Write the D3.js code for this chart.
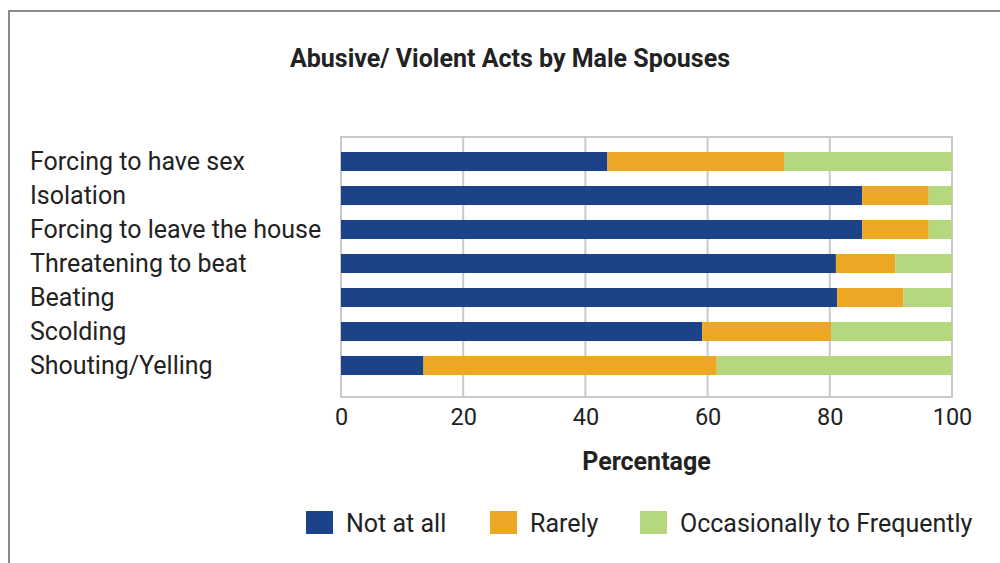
<!DOCTYPE html>
<html>
<head>
<meta charset="utf-8">
<script src="https://cdn.jsdelivr.net/npm/d3@7"></script>
<style>
  html, body { margin: 0; padding: 0; background: #fff; }
  svg { display: block; font-family: Roboto, "Noto Sans", sans-serif; }
</style>
</head>
<body>
<svg id="chart" width="1000" height="563"></svg>
<script>
// Survey responses (percent of respondents) per type of act
const categories = [
  "Forcing to have sex",
  "Isolation",
  "Forcing to leave the house",
  "Threatening to beat",
  "Beating",
  "Scolding",
  "Shouting/Yelling"
];
const seriesNames = ["Not at all", "Rarely", "Occasionally to Frequently"];
const notAtAll   = [43.6, 85.3, 85.3, 81.0, 81.2, 59.1, 13.5];
const rarely     = [28.9, 10.9, 10.9,  9.7, 10.8, 21.1, 48.0];
const occasional = [27.5,  3.8,  3.8,  9.3,  8.0, 19.8, 38.5];
const xTicks = [0, 20, 40, 60, 80, 100];
const colors = ["#1c4387", "#eca725", "#b5d87f"];

const rows = categories.map((c, i) => ({
  category: c,
  "Not at all": notAtAll[i],
  "Rarely": rarely[i],
  "Occasionally to Frequently": occasional[i]
}));

const svg = d3.select("#chart");

// outer frame
svg.append("rect")
  .attr("x", 9).attr("y", 11)
  .attr("width", 1000).attr("height", 600)
  .attr("fill", "none")
  .attr("stroke", "#8a8a8a")
  .attr("stroke-width", 2);

// title
svg.append("text")
  .attr("x", 510).attr("y", 67)
  .attr("text-anchor", "middle")
  .attr("font-size", 25)
  .attr("font-weight", "bold")
  .attr("fill", "#222")
  .text("Abusive/ Violent Acts by Male Spouses");

const plot = { left: 341, right: 952, top: 137, bottom: 397 };

const x = d3.scaleLinear().domain([0, 100]).range([plot.left, plot.right]);
const y = d3.scaleBand().domain(categories).range([144.5, 382.5]).paddingInner(0.44).paddingOuter(0.22);

// vertical gridlines
svg.append("g")
  .selectAll("line")
  .data(xTicks)
  .join("line")
  .attr("x1", d => x(d)).attr("x2", d => x(d))
  .attr("y1", plot.top).attr("y2", plot.bottom)
  .attr("stroke", "#c9c9cc")
  .attr("stroke-width", 2);

// plot frame top/bottom
[plot.top, plot.bottom].forEach(yy => {
  svg.append("line")
    .attr("x1", plot.left - 1).attr("x2", plot.right + 1)
    .attr("y1", yy).attr("y2", yy)
    .attr("stroke", "#c9c9cc")
    .attr("stroke-width", 2);
});

// stacked bars
const stacked = d3.stack().keys(seriesNames)(rows);
svg.append("g")
  .selectAll("g")
  .data(stacked)
  .join("g")
  .attr("fill", (d, i) => colors[i])
  .selectAll("rect")
  .data(d => d)
  .join("rect")
  .attr("x", d => x(d[0]))
  .attr("width", d => x(d[1]) - x(d[0]))
  .attr("y", d => y(d.data.category))
  .attr("height", y.bandwidth());

// category labels
svg.append("g")
  .selectAll("text")
  .data(categories)
  .join("text")
  .attr("x", 30)
  .attr("y", d => y(d) + y.bandwidth() / 2)
  .attr("dy", "0.35em")
  .attr("font-size", 25)
  .attr("fill", "#222")
  .text(d => d);

// x axis tick labels
const xAxis = d3.axisBottom(x).tickValues(xTicks).tickSize(0).tickPadding(11);
const ax = svg.append("g")
  .attr("transform", `translate(0,${plot.bottom})`)
  .call(xAxis);
ax.select(".domain").remove();
ax.selectAll("text")
  .attr("font-size", 23.5)
  .attr("font-family", "Roboto, sans-serif")
  .attr("fill", "#222");

// axis title
svg.append("text")
  .attr("x", x(50)).attr("y", 470)
  .attr("text-anchor", "middle")
  .attr("font-size", 25)
  .attr("font-weight", "bold")
  .attr("fill", "#222")
  .text("Percentage");

// legend
const legendX = [306, 490, 640];
const lg = svg.append("g")
  .selectAll("g")
  .data(seriesNames)
  .join("g")
  .attr("transform", (d, i) => `translate(${legendX[i]},511)`);
lg.append("rect")
  .attr("width", 27).attr("height", 23)
  .attr("fill", (d, i) => colors[i]);
lg.append("text")
  .attr("x", 40).attr("y", 12)
  .attr("dy", "0.35em")
  .attr("font-size", 25)
  .attr("fill", "#222")
  .text(d => d);
</script>
</body>
</html>
